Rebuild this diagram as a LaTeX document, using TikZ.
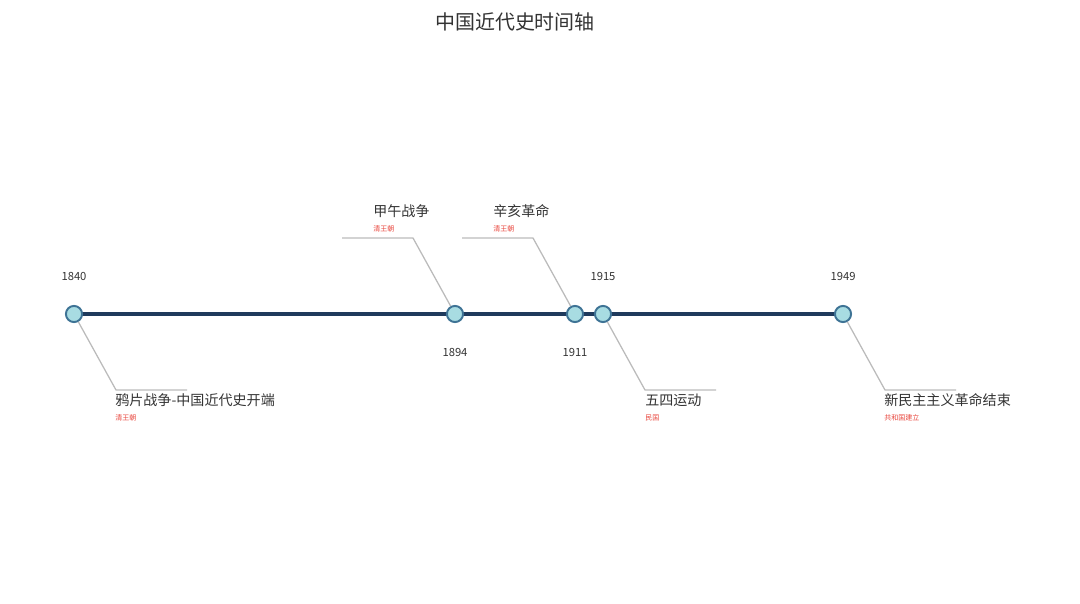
\documentclass[tikz,border=0pt]{standalone}
\usepackage{fontspec}
\setmainfont{Noto Sans CJK SC}
\begin{document}
\begin{tikzpicture}[x=0.025cm,y=-0.025cm,
  dot/.style={circle,fill=dotfill,draw=dotedge,line width=1.4pt,minimum size=11.5pt,inner sep=0pt},
  axis/.style={draw=axiscol,line width=3pt},
  lead/.style={draw=leadcol,line width=0.9pt},
  year/.style={text=txt,font=\fontsize{8}{9}\selectfont,inner sep=0pt},
  evt/.style={text=txt,font=\fontsize{10}{12}\selectfont,inner sep=0pt,anchor=west},
  sub/.style={text=subred,font=\fontsize{5}{6}\selectfont,inner sep=0pt,anchor=west}]
\definecolor{dotfill}{HTML}{A8DCE2}
\definecolor{dotedge}{HTML}{3E7395}
\definecolor{axiscol}{HTML}{1F3A5C}
\definecolor{leadcol}{HTML}{BBBBBB}
\definecolor{txt}{HTML}{333333}
\definecolor{subred}{HTML}{E8453C}
\useasboundingbox (0,0) rectangle (1080,604);
\node[text=txt,font=\fontsize{14.2}{16}\selectfont,inner sep=0pt] (title) at (515,22) {中国近代史时间轴};
% axis
\coordinate (a0) at (74,314);
\coordinate (a1) at (843,314);
\draw[axis] (a0) -- (a1);
% dots
\node[dot] (d1840) at (74,314) {};
\node[dot] (d1894) at (455,314) {};
\node[dot] (d1911) at (575,314) {};
\node[dot] (d1915) at (603,314) {};
\node[dot] (d1949) at (843,314) {};
% years
\node[year] (y1840) at (74,276) {1840};
\node[year] (y1894) at (455,352) {1894};
\node[year] (y1911) at (575,352) {1911};
\node[year] (y1915) at (603,276) {1915};
\node[year] (y1949) at (843,276) {1949};
% leader coordinates
\coordinate (k1840) at (116,390); \coordinate (e1840) at (187,390);
\coordinate (k1894) at (413,238); \coordinate (e1894) at (342,238);
\coordinate (k1911) at (533,238); \coordinate (e1911) at (462,238);
\coordinate (k1915) at (645,390); \coordinate (e1915) at (716,390);
\coordinate (k1949) at (885,390); \coordinate (e1949) at (956,390);
\draw[lead] (d1840) -- (k1840) -- (e1840);
\draw[lead] (d1894) -- (k1894) -- (e1894);
\draw[lead] (d1911) -- (k1911) -- (e1911);
\draw[lead] (d1915) -- (k1915) -- (e1915);
\draw[lead] (d1949) -- (k1949) -- (e1949);
% events
\node[evt] (t1840) at (115,400) {鸦片战争-中国近代史开端};
\node[sub] (s1840) at (115,418) {清王朝};
\node[evt] (t1894) at (373,211) {甲午战争};
\node[sub] (s1894) at (373,229) {清王朝};
\node[evt] (t1911) at (493,211) {辛亥革命};
\node[sub] (s1911) at (493,229) {清王朝};
\node[evt] (t1915) at (645,400) {五四运动};
\node[sub] (s1915) at (645,418) {民国};
\node[evt] (t1949) at (884,400) {新民主主义革命结束};
\node[sub] (s1949) at (884,418) {共和国建立};
\end{tikzpicture}
\end{document}
